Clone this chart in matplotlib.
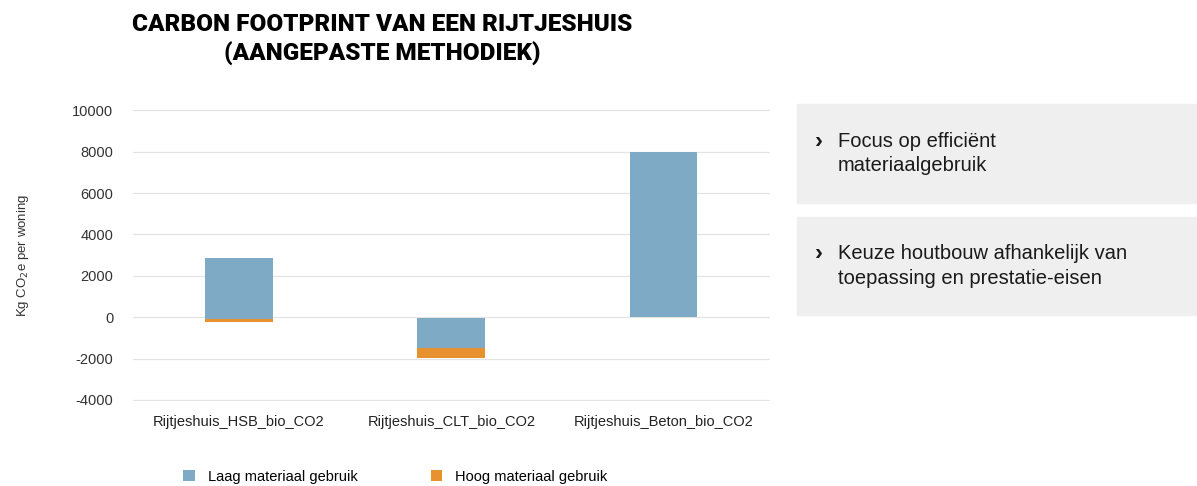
import matplotlib.pyplot as plt
from matplotlib.patches import Rectangle

# data
CATEGORIES = ['Rijtjeshuis_HSB_bio_CO2', 'Rijtjeshuis_CLT_bio_CO2', 'Rijtjeshuis_Beton_bio_CO2']
LAAG_LOW = [-100, -1500, 0]
LAAG_HIGH = [2850, -50, 8000]
HOOG_LOW = [-250, -1950, 0]
HOOG_HIGH = [-100, -1500, 0]
YTICKS = [-4000, -2000, 0, 2000, 4000, 6000, 8000, 10000]
BULLETS = ['Focus op efficiënt\nmateriaalgebruik',
           'Keuze houtbouw afhankelijk van\ntoepassing en prestatie-eisen']

BLUE = '#7eaac6'
ORANGE = '#e8922f'
FONT = ['Liberation Sans', 'DejaVu Sans']

plt.rcParams['font.family'] = FONT

fig = plt.figure(figsize=(11.97, 4.86), dpi=100)
ax = fig.add_axes([0.111, 0.175, 0.532, 0.6])

x = range(len(CATEGORIES))
ax.bar(x, [h - l for h, l in zip(LAAG_HIGH, LAAG_LOW)], bottom=LAAG_LOW,
       width=0.32, color=BLUE, label='Laag materiaal gebruik', zorder=3)
ax.bar(x, [h - l for h, l in zip(HOOG_HIGH, HOOG_LOW)], bottom=HOOG_LOW,
       width=0.32, color=ORANGE, label='Hoog materiaal gebruik', zorder=3)

ax.set_xlim(-0.5, len(CATEGORIES) - 0.5)
ax.set_ylim(-4050, 10050)
ax.set_yticks(YTICKS)
ax.set_yticklabels([str(t) for t in YTICKS], fontsize=10.5, color='#333333')
ax.set_xticks(list(x))
ax.set_xticklabels(CATEGORIES, fontsize=10.5, color='#222222')
ax.tick_params(length=0, axis='y', pad=14)
ax.tick_params(length=0, axis='x', pad=10)
ax.grid(axis='y', color='#e4e4e4', linewidth=0.9, zorder=0)
for s in ax.spines.values():
    s.set_visible(False)

ax.set_ylabel('Kg CO$_2$e per woning', fontsize=9.5, color='#333333')
ax.yaxis.set_label_coords(-0.16, 0.5)

fig.legend(loc='lower left', bbox_to_anchor=(0.142, -0.022), ncol=2, frameon=False,
           fontsize=10.5, handlelength=0.8, handleheight=0.8, handletextpad=0.9,
           columnspacing=5.0)

fig.text(0.319, 0.918, 'CARBON FOOTPRINT VAN EEN RIJTJESHUIS\n(AANGEPASTE METHODIEK)',
         ha='center', va='center', fontsize=17.5, fontweight='black',
         family=['Roboto', 'DejaVu Sans'], linespacing=1.3)

# grey boxes with bullet points
W, H = 1197, 486
boxes = [(104, 203), (217, 315)]
for (top, bot), txt in zip(boxes, BULLETS):
    fig.patches.append(Rectangle((797 / W, 1 - bot / H), (W - 797) / W, (bot - top) / H,
                                 transform=fig.transFigure, color='#efefef', zorder=0))
    yc = 1 - (top + bot) / 2 / H
    fig.text(838 / W, yc, txt, fontsize=14.5, va='center', ha='left',
             color='#1a1a1a', linespacing=1.35)
    fig.text(815 / W, yc + 12 / H, '\u203a', fontsize=17, fontweight='bold',
             va='center', ha='left', color='#1a1a1a')

fig.savefig('out.png', dpi=100)
